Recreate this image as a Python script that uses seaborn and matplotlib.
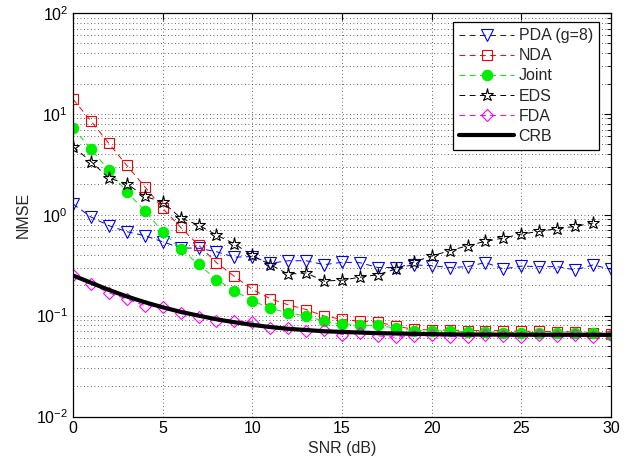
import numpy as np
import pandas as pd
import matplotlib
matplotlib.use("Agg")
import matplotlib.pyplot as plt
import seaborn as sns
from matplotlib.ticker import LogLocator, FixedLocator, NullFormatter

# SNR axis (dB)
snr = list(range(0, 31))

pda = [1.28, 0.95, 0.78, 0.68, 0.62, 0.54, 0.47, 0.465, 0.43, 0.38, 0.385,
       0.33, 0.35, 0.35, 0.32, 0.338, 0.335, 0.30, 0.30, 0.318, 0.313,
       0.30, 0.306, 0.336, 0.29, 0.31, 0.306, 0.306, 0.284, 0.318, 0.288]

nda = [14.0, 8.5, 5.1, 3.08, 1.9, 1.16, 0.75, 0.50, 0.335, 0.245, 0.182,
       0.147, 0.128, 0.115, 0.099, 0.092, 0.088, 0.086, 0.079, 0.073, 0.072,
       0.072, 0.071, 0.071, 0.071, 0.070, 0.070, 0.069, 0.069, 0.068, 0.066]

joint = [7.2, 4.5, 2.75, 1.68, 1.1, 0.68, 0.457, 0.322, 0.228, 0.176, 0.141,
         0.118, 0.107, 0.099, 0.088, 0.082, 0.080, 0.080, 0.075, 0.071, 0.071,
         0.070, 0.069, 0.069, 0.068, 0.068, 0.068, 0.067, 0.067, 0.067, 0.065]

snr_eds = list(range(0, 30))
eds = [4.74, 3.37, 2.31, 2.03, 1.52, 1.34, 0.93, 0.79, 0.63, 0.515, 0.395,
       0.32, 0.258, 0.265, 0.22, 0.225, 0.24, 0.255, 0.29, 0.34, 0.39,
       0.44, 0.493, 0.545, 0.588, 0.644, 0.684, 0.728, 0.767, 0.828]

fda = [0.255, 0.207, 0.168, 0.146, 0.126, 0.123, 0.105, 0.098, 0.089, 0.089,
       0.087, 0.076, 0.076, 0.071, 0.072, 0.065, 0.068, 0.063, 0.061, 0.063,
       0.064, 0.062, 0.062, 0.065, 0.063, 0.062, 0.065, 0.063, 0.064, 0.062,
       0.064]

crb = [0.250, 0.212, 0.180, 0.155, 0.136, 0.121, 0.109, 0.100, 0.092, 0.086,
       0.081, 0.077, 0.074, 0.072, 0.070, 0.069, 0.068, 0.067, 0.0665, 0.066,
       0.0655, 0.0652, 0.065, 0.0649, 0.0648, 0.0647, 0.0646, 0.0646, 0.0645,
       0.0645, 0.0645]

sns.set_theme(style="white")
plt.rcParams["font.family"] = ["Liberation Sans", "DejaVu Sans"]
plt.rcParams["mathtext.fontset"] = "custom"
plt.rcParams["mathtext.rm"] = "Liberation Sans"
plt.rcParams["font.size"] = 11.5

fig = plt.figure(figsize=(6.32, 4.66), dpi=100)
ax = fig.add_axes([0.1155, 0.1062, 0.8513, 0.8659])

dash = (6, 4.5)
common = dict(ax=ax, linewidth=0.7, markeredgewidth=0.8)

sns.lineplot(x=snr, y=pda, color="#0000ff", marker="v", markersize=9,
             markerfacecolor="none", markeredgecolor="#0000ff",
             dashes=dash, label="PDA (g=8)", **common)
sns.lineplot(x=snr, y=nda, color="#ff0000", marker="s", markersize=7,
             markerfacecolor="none", markeredgecolor="#ff0000",
             dashes=dash, label="NDA", **common)
sns.lineplot(x=snr, y=joint, color="#00ee00", marker="o", markersize=7.5,
             markerfacecolor="#00ee00", markeredgecolor="#00ee00",
             dashes=dash, label="Joint", **common)
sns.lineplot(x=snr_eds, y=eds, color="black", marker="*", markersize=9.5,
             markerfacecolor="none", markeredgecolor="black",
             dashes=dash, label="EDS", **common)
sns.lineplot(x=snr, y=fda, color="#ff00ff", marker="D", markersize=6.5,
             markerfacecolor="none", markeredgecolor="#ff00ff",
             dashes=dash, label="FDA", **common)
sns.lineplot(x=snr, y=crb, color="black", linewidth=3, label="CRB", ax=ax)

ax.set_yscale("log")
ax.set_xlim(0, 30)
ax.set_ylim(1e-2, 1e2)
ax.xaxis.set_major_locator(FixedLocator([0, 5, 10, 15, 20, 25, 30]))
ax.yaxis.set_major_locator(LogLocator(base=10, numticks=10))
ax.yaxis.set_minor_locator(LogLocator(base=10, subs=np.arange(2, 10), numticks=20))
ax.yaxis.set_minor_formatter(NullFormatter())

grid_kw = dict(color="#333333", linestyle=(0, (1, 3.2)), linewidth=0.6)
ax.grid(True, which="major", axis="both", **grid_kw)
ax.yaxis.grid(True, which="minor", **grid_kw)
ax.set_axisbelow(True)

for s in ax.spines.values():
    s.set_color("black")
    s.set_linewidth(0.9)
ax.tick_params(which="both", direction="in", top=True, right=True,
               colors="black", labelsize=11.5)
ax.tick_params(which="major", length=5, width=0.8)
ax.tick_params(which="minor", length=3, width=0.6)

ax.set_xlabel("SNR (dB)", fontsize=11.5, labelpad=3)
ax.set_ylabel("NMSE", fontsize=11.5, labelpad=4)

leg = ax.legend(loc="upper right", bbox_to_anchor=(0.978, 0.978),
                borderaxespad=0, fancybox=False, framealpha=1,
                edgecolor="black", fontsize=11.5, handlelength=3.4,
                handletextpad=0.3, labelspacing=0.32, borderpad=0.4)
leg.get_frame().set_linewidth(0.9)

fig.savefig("out.png", dpi=100)
